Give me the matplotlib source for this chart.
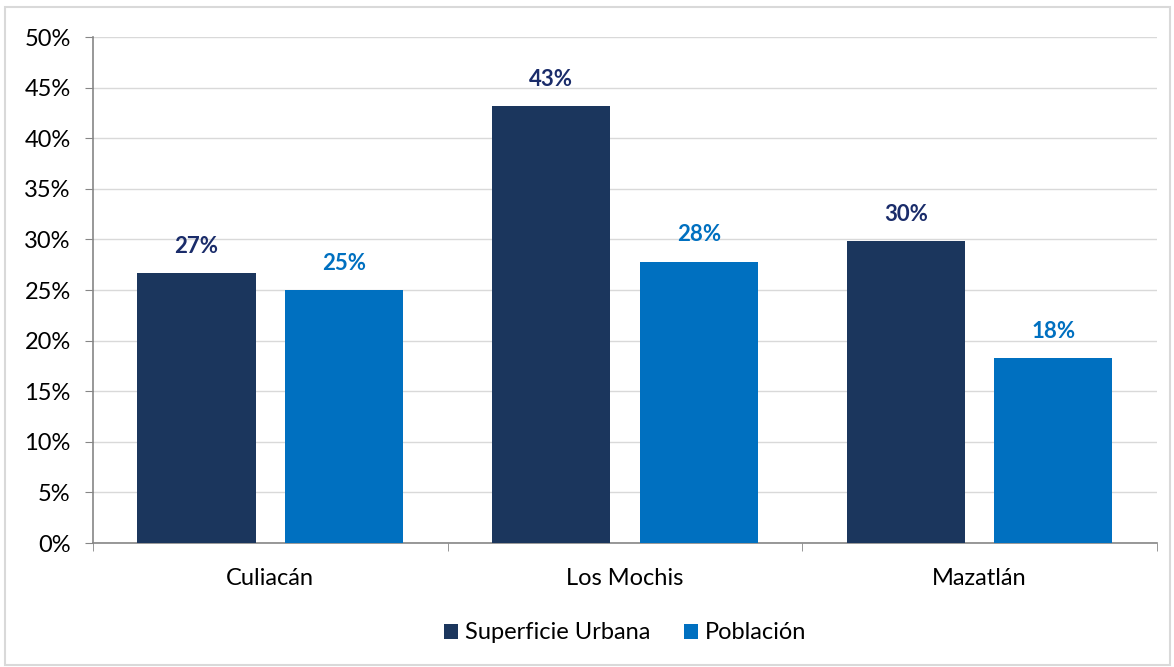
import numpy as np
import matplotlib.pyplot as plt
from matplotlib.patches import Rectangle
from matplotlib.ticker import PercentFormatter

plt.rcParams['font.family'] = ['Lato', 'DejaVu Sans']

# Datos
ciudades = ["Culiacán", "Los Mochis", "Mazatlán"]
superficie = [26.7, 43.2, 29.8]
poblacion = [25.0, 27.8, 18.3]
etiquetas_sup = ["27%", "43%", "30%"]
etiquetas_pob = ["25%", "28%", "18%"]

c_sup = "#1b365d"
c_pob = "#0070c0"
c_lab_sup = "#1a2c6a"

fig = plt.figure(figsize=(11.74, 6.67), dpi=100)
ax = fig.add_axes([0.0792, 0.1859, 0.9063, 0.7586])

# marco exterior
fig.patches.append(Rectangle((0.004, 0.003), 0.993, 0.987, transform=fig.transFigure,
                             fill=False, edgecolor="#d9d9d9", linewidth=1.5))

x = np.arange(len(ciudades))
w = 0.333
b1 = ax.bar(x - 0.208, superficie, w, color=c_sup, zorder=3)
b2 = ax.bar(x + 0.208, poblacion, w, color=c_pob, zorder=3)

for rect, lab in zip(b1, etiquetas_sup):
    ax.text(rect.get_x() + rect.get_width() / 2, rect.get_height() + 1.6, lab,
            ha="center", va="bottom", fontsize=16, fontweight="bold", color=c_lab_sup)
for rect, lab in zip(b2, etiquetas_pob):
    ax.text(rect.get_x() + rect.get_width() / 2, rect.get_height() + 1.6, lab,
            ha="center", va="bottom", fontsize=16, fontweight="bold", color=c_pob)

ax.set_xlim(-0.5, 2.5)
ax.set_ylim(0, 50)
ax.set_yticks(np.arange(0, 51, 5))
ax.yaxis.set_major_formatter(PercentFormatter(decimals=0))
ax.grid(axis="y", color="#d9d9d9", linewidth=1, zorder=0)

ax.set_xticks(x)
ax.set_xticklabels(ciudades)
ax.set_xticks([-0.5, 0.5, 1.5, 2.5], minor=True)
ax.tick_params(axis="x", which="major", length=0, pad=18, labelsize=17)
ax.tick_params(axis="x", which="minor", length=6, color="#868686", direction="out")
ax.tick_params(axis="y", length=6, color="#868686", labelsize=17, pad=10)

for s in ["top", "right"]:
    ax.spines[s].set_visible(False)
for s in ["left", "bottom"]:
    ax.spines[s].set_color("#868686")
    ax.spines[s].set_linewidth(1.2)

ax.legend([b1, b2], ["Superficie Urbana", "Población"], loc="upper center",
          bbox_to_anchor=(0.5, -0.115), ncol=2, frameon=False, fontsize=17,
          handlelength=0.6, handleheight=0.6, handletextpad=0.3, columnspacing=1.4)

fig.savefig("out.png", dpi=100)
